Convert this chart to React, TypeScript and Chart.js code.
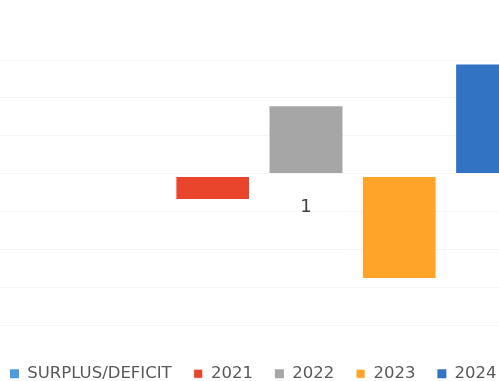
import React, { useEffect, useRef } from "react";
import { Chart, registerables } from "chart.js";

Chart.register(...registerables);

const categories = ["1"];
const seriesNames = ["SURPLUS/DEFICIT", "2021", "2022", "2023", "2024"];
const surplusDeficit: (number | null)[] = [null];
const values2021 = [-3.35];
const values2022 = [8.9];
const values2023 = [-13.8];
const values2024 = [14.4];
const yMin = -20;
const yMax = 15;
const yStep = 5;

const colors = ["#4C9BE0", "#E8452C", "#A6A6A6", "#FFA329", "#3373C4"];

export default function App() {
  const ref = useRef<HTMLCanvasElement | null>(null);

  useEffect(() => {
    if (!ref.current) return;
    const seriesData = [surplusDeficit, values2021, values2022, values2023, values2024];
    const chart = new Chart(ref.current, {
      type: "bar",
      data: {
        labels: categories,
        datasets: seriesNames.map((name, i) => {
          const negative = (seriesData[i][0] ?? 0) < 0;
          return {
            label: name,
            data: seriesData[i] as any,
            backgroundColor: colors[i],
            borderColor: "#ffffff",
            borderWidth: negative ? { top: 3, left: 0, right: 0, bottom: 0 } : 0,
            borderSkipped: false,
            categoryPercentage: 0.7335,
            barPercentage: 0.782,
          };
        }),
      },
      options: {
        responsive: false,
        animation: false,
        layout: { padding: { top: 60, left: 0, right: 0, bottom: 0 } },
        plugins: {
          tooltip: { enabled: false },
          legend: {
            position: "bottom",
            align: "start",
            title: {
              display: true,
              text: "",
              padding: { top: 17.5, bottom: 0 },
              font: { size: 1, lineHeight: 1 },
            },
            labels: {
              boxWidth: 9,
              boxHeight: 9,
              padding: 22,
              color: "#595959",
              font: { family: "DejaVu Sans", size: 16.5 },
            },
          },
        },
        scales: {
          x: {
            position: { y: 0 } as any,
            grid: { display: false, drawTicks: false },
            border: { display: false },
            ticks: {
              padding: 22.5,
              color: "#404040",
              font: { family: "DejaVu Sans", size: 18 },
            },
          },
          y: {
            min: yMin,
            max: yMax,
            ticks: { display: false, stepSize: yStep },
            grid: { color: "rgba(0,0,0,0.04)", drawTicks: false },
            border: { display: false },
            afterFit: (s: any) => {
              s.width = 0;
            },
          },
        },
      },
    });
    return () => chart.destroy();
  }, []);

  return (
    <div
      style={{
        position: "fixed",
        left: 0,
        top: 0,
        width: 499,
        height: 381,
        overflow: "hidden",
        background: "#ffffff",
      }}
    >
      <canvas
        ref={ref}
        width={636}
        height={392}
        style={{ position: "absolute", left: -12, top: 0, width: 636, height: 392 }}
      />
    </div>
  );
}
